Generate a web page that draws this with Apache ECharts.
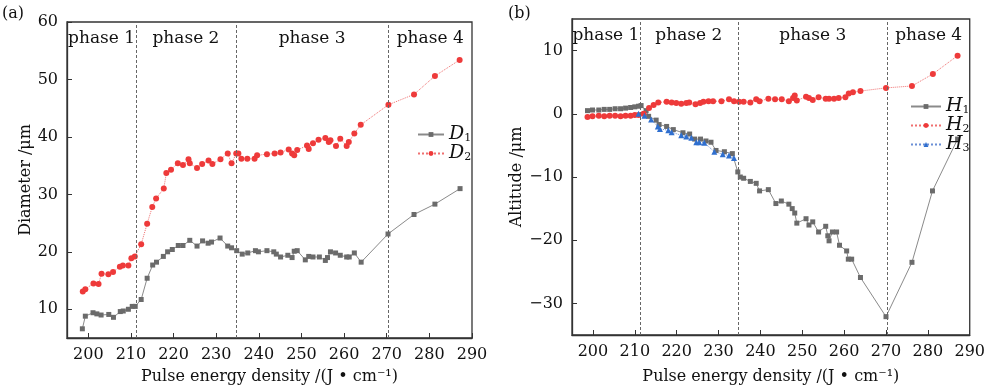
<!DOCTYPE html>
<html><head><meta charset="utf-8">
<script src="https://cdn.jsdelivr.net/npm/echarts@6/dist/echarts.min.js"></script>
<style>html,body{margin:0;padding:0;background:#fff}#c{width:988px;height:390px}</style>
</head><body><div id="c"></div>
<script>
// ---- data ----
const xTicks = [200,210,220,230,240,250,260,270,280,290];
const yTicksA = [10,20,30,40,50,60];
const yTicksB = [-30,-20,-10,0,10];
const phaseNames = ['phase 1','phase 2','phase 3','phase 4'];
const phaseBounds = [211.2, 234.6, 270.4];

const d1X = [198.6,199.3,201.1,202.0,203.0,204.8,205.9,207.5,208.2,209.4,210.3,211.0,
  212.4,213.8,215.1,216.0,217.6,218.6,219.7,221.1,222.2,223.8,225.5,226.8,228.1,228.9,230.9,232.7,233.6,
  234.8,236.1,237.4,239.2,239.9,241.9,243.5,244.1,245.1,246.8,247.8,248.3,249.0,250.9,251.7,252.7,254.2,255.6,256.1,256.8,258.0,259.1,260.6,261.2,262.4,264.0,
  270.3,276.4,281.3,287.2];
const d1Y = [6.6,8.8,9.4,9.2,9.0,9.1,8.6,9.6,9.7,10.0,10.5,10.5,
  11.7,15.4,17.7,18.2,19.2,20.0,20.4,21.1,21.1,22.0,21.0,21.9,21.5,21.7,22.4,21.0,20.7,
  20.2,19.6,19.8,20.2,20.0,20.2,20.0,19.6,19.1,19.4,19.0,20.1,20.2,18.6,19.2,19.1,19.1,18.5,19.0,20.0,19.8,19.4,19.1,19.1,19.8,18.2,
  23.1,26.5,28.3,31.0];
const d2X = [198.7,199.3,201.2,202.4,203.1,204.7,205.8,207.4,208.1,209.4,210.1,210.9,
  212.4,213.8,215.0,215.9,217.7,218.3,219.4,221.0,222.2,223.5,223.8,225.5,226.7,228.2,229.1,231.0,232.7,233.6,234.7,235.2,
  235.9,237.3,239.0,239.6,241.9,243.7,245.1,247.0,247.8,248.3,249.0,251.3,251.7,252.7,254.0,255.6,256.4,256.8,258.1,259.1,260.6,261.1,262.4,263.9,
  270.4,276.4,281.3,287.1];
const d2Y = [13.1,13.5,14.5,14.4,16.2,16.1,16.5,17.4,17.6,17.6,18.9,19.2,
  21.3,24.9,27.8,29.3,31.0,33.7,34.3,35.4,35.1,36.1,35.4,34.6,35.3,35.9,35.3,36.1,37.1,35.4,37.1,37.1,
  36.2,36.2,36.2,36.8,37.0,37.1,37.3,37.8,37.1,36.8,37.7,38.5,37.9,38.9,39.5,39.8,39.1,39.4,38.4,39.7,38.4,39.1,40.6,42.1,
  45.6,47.4,50.6,53.4];

const h1X = [198.7,199.9,201.4,202.7,204.0,205.3,206.6,207.8,209.0,210.0,210.9,211.5,
  212.7,213.3,215.1,215.8,217.6,219.2,221.5,223.1,224.3,225.7,227.0,228.2,229.4,231.4,233.3,
  234.6,235.2,236.0,237.6,239.0,239.8,241.9,243.7,245.0,246.8,247.6,248.2,248.7,250.9,251.6,252.5,253.9,255.6,256.1,256.4,257.2,258.2,258.9,260.6,261.0,261.8,263.9,
  270.0,276.2,281.1,287.1];
const h1Y = [0.5,0.6,0.6,0.7,0.7,0.8,0.8,0.9,1.0,1.1,1.2,1.3,
  0.5,-0.4,-1.0,-1.7,-2.0,-2.5,-3.0,-3.2,-4.0,-4.0,-4.3,-4.5,-5.8,-6.0,-6.3,
  -9.2,-10.0,-10.2,-10.7,-11.0,-12.2,-12.0,-14.2,-13.8,-14.3,-15.0,-15.7,-17.3,-16.6,-17.6,-17.1,-18.7,-17.8,-19.3,-20.1,-18.7,-18.7,-20.8,-21.7,-23.0,-23.0,-25.9,
  -32.1,-23.5,-12.2,-4.0];
const h2X = [198.7,199.9,201.4,202.7,204.0,205.3,206.6,207.8,209.0,210.0,210.9,
  212.1,213.4,214.5,215.6,217.6,218.8,219.9,221.1,222.3,223.0,224.5,225.6,226.4,227.6,228.7,230.7,232.5,233.7,234.9,
  236.0,237.6,239.0,239.8,241.9,243.5,245.1,246.8,247.8,248.2,248.7,250.9,251.6,252.5,253.9,255.6,256.4,257.6,258.7,260.3,261.1,262.1,263.9,
  270.0,276.2,281.2,287.1];
const h2Y = [-0.5,-0.4,-0.3,-0.4,-0.3,-0.3,-0.4,-0.3,-0.3,-0.2,-0.2,
  0.0,0.9,1.4,1.8,1.9,1.8,1.7,1.6,1.7,1.8,1.5,1.7,1.9,2.0,2.0,2.0,2.3,2.0,1.9,
  1.9,1.8,2.3,2.0,2.4,2.3,2.3,2.0,2.5,2.9,2.1,2.7,2.5,2.2,2.6,2.4,2.4,2.4,2.5,2.6,3.2,3.4,3.6,
  4.1,4.4,6.3,9.2];
const h3X = [210.9,212.3,213.9,215.5,216.0,218.0,218.8,221.1,222.3,223.5,224.7,225.4,226.6,229.0,231.0,232.5,233.7];
const h3Y = [0.0,-0.3,-0.9,-2.0,-2.4,-2.6,-2.9,-3.4,-3.6,-3.8,-4.5,-4.5,-4.6,-6.0,-6.4,-6.6,-7.0];

// ---- chart ----
const FONT = 'DejaVu Serif';
const pair = (xs, ys) => xs.map((x, i) => [x, ys[i]]);
const GRAY = '#6b6b6b', RED = '#ee3a3a', BLUE = '#2f6fcf';

function xAxisCfg(gi, nameGap) {
  return {
    type: 'value', gridIndex: gi, min: 195, max: 290,
    name: 'Pulse energy density /(J • cm⁻¹)', nameLocation: 'middle', nameGap: nameGap,
    nameTextStyle: { fontFamily: FONT, fontSize: 16, color: '#111' },
    axisLine: { show: true, onZero: false, lineStyle: { color: '#333', width: 1.3 } },
    axisTick: { show: true, inside: true, length: 5, customValues: xTicks, lineStyle: { color: '#333' } },
    axisLabel: { customValues: xTicks, fontFamily: FONT, fontSize: 16, color: '#111', margin: 9 },
    splitLine: { show: false }
  };
}
function yAxisCfg(gi, name, min, max, ticks, nameGap) {
  return {
    type: 'value', gridIndex: gi, min: min, max: max,
    name: name, nameLocation: 'middle', nameGap: nameGap,
    nameTextStyle: { fontFamily: FONT, fontSize: 16, color: '#111' },
    axisLine: { show: true, onZero: false, lineStyle: { color: '#333', width: 1.3 } },
    axisTick: { show: true, inside: true, length: 5, customValues: ticks, lineStyle: { color: '#333' } },
    axisLabel: { customValues: ticks, fontFamily: FONT, fontSize: 16, color: '#111', margin: 9,
      formatter: v => String(v).replace('-', '−') },
    splitLine: { show: false }
  };
}
function phaseLines() {
  return {
    silent: true, symbol: 'none', label: { show: false },
    lineStyle: { color: '#666', type: [3, 2], width: 1 },
    data: phaseBounds.map(b => ({ xAxis: b }))
  };
}
function phaseAreas() {
  const edges = [195].concat(phaseBounds, [290]);
  return {
    silent: true, itemStyle: { color: 'rgba(0,0,0,0)' },
    label: { show: true, position: 'insideTop', distance: 8, fontFamily: FONT, fontSize: 17, color: '#111' },
    data: phaseNames.map((n, i) => [{ name: n, xAxis: edges[i] }, { xAxis: edges[i + 1] }])
  };
}
function lineSeries(name, gi, data, color, symbol, size, lineType, lineColor, extra) {
  return Object.assign({
    name: name, type: 'line', xAxisIndex: gi, yAxisIndex: gi, data: data,
    symbol: symbol, symbolSize: size, showSymbol: true,
    itemStyle: { color: color },
    lineStyle: { color: lineColor, width: 1, type: lineType },
    animation: false, z: 3
  }, extra || {});
}
const rich = {
  i: { fontFamily: FONT, fontStyle: 'italic', fontSize: 19, lineHeight: 18, color: '#111' },
  s: { fontFamily: FONT, fontSize: 11, lineHeight: 9, color: '#111', verticalAlign: 'bottom' }
};
const legFmt = n => '{i|' + n[0] + '}{s|' + n.slice(1) + '}';

const chart = echarts.init(document.getElementById('c'), null, { renderer: 'canvas' });
chart.setOption({
  animation: false,
  backgroundColor: '#fff',
  grid: [
    { left: 67, right: 516, top: 22, bottom: 46, show: true, borderColor: '#333', borderWidth: 1.3, backgroundColor: 'transparent' },
    { left: 572, right: 16, top: 19, bottom: 49, show: true, borderColor: '#333', borderWidth: 1.3, backgroundColor: 'transparent' }
  ],
  xAxis: [xAxisCfg(0, 31), xAxisCfg(1, 34)],
  yAxis: [
    yAxisCfg(0, 'Diameter /μm', 5, 60, yTicksA, 30),
    yAxisCfg(1, 'Altitude /μm', -35, 15, yTicksB, 42)
  ],
  legend: [
    { data: ['D1', 'D2'], orient: 'vertical', left: 412, top: 120, itemGap: 0, itemWidth: 26, itemHeight: 6,
      formatter: legFmt, textStyle: { rich: rich } },
    { data: ['H1', 'H2', 'H3'], orient: 'vertical', left: 905, top: 92, itemGap: 0, itemWidth: 30, itemHeight: 6,
      formatter: legFmt, textStyle: { rich: rich } }
  ],
  graphic: [
    { type: 'text', left: 2, top: 6, style: { text: '(a)', font: '16px "DejaVu Serif"', fill: '#111' } },
    { type: 'text', left: 508, top: 6, style: { text: '(b)', font: '16px "DejaVu Serif"', fill: '#111' } }
  ],
  series: [
    lineSeries('D1', 0, pair(d1X, d1Y), GRAY, 'rect', 5, 'solid', '#8a8a8a', { markLine: phaseLines() }),
    lineSeries('D2', 0, pair(d2X, d2Y), RED, 'circle', 6, 'dotted', '#f07070', { markArea: phaseAreas() }),
    lineSeries('H1', 1, pair(h1X, h1Y), GRAY, 'rect', 5, 'solid', '#8a8a8a', { markLine: phaseLines() }),
    lineSeries('H2', 1, pair(h2X, h2Y), RED, 'circle', 6, 'dotted', '#f07070', { markArea: phaseAreas() }),
    lineSeries('H3', 1, pair(h3X, h3Y), BLUE, 'triangle', 6, 'dotted', '#6b8fd6')
  ]
});
</script></body></html>
